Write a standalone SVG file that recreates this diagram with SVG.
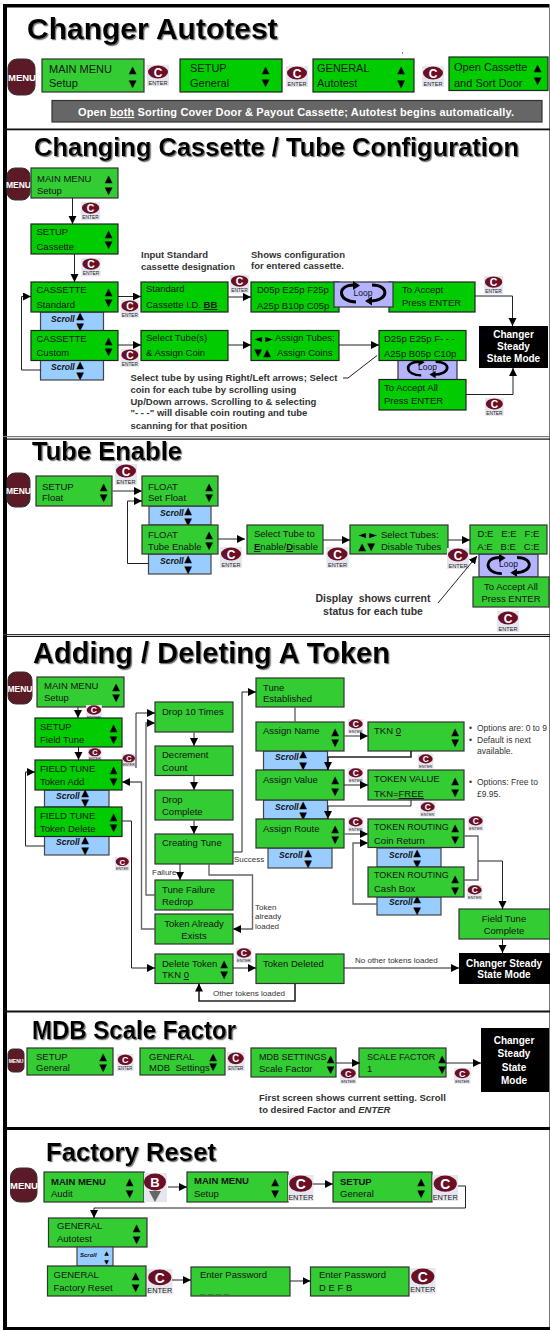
<svg xmlns="http://www.w3.org/2000/svg" width="550" height="1330" viewBox="0 0 550 1330">
<style>
text{font-family:"Liberation Sans",Arial,sans-serif;fill:#141414;font-size:9.500px;white-space:pre}
.title{font-weight:700;fill:#000;filter:url(#sh)}
.a{fill:#33cc33;stroke:#333;stroke-width:1.2}
.b{fill:#00cc00;stroke:#222;stroke-width:1.2}
.sc{fill:#99ccff;stroke:#444;stroke-width:1.2}
.lp{fill:#b3b3ff;stroke:#333;stroke-width:1.2}
.blk{fill:#000}
.w{fill:#fff;font-weight:700;font-size:10px;text-anchor:middle}
.m{fill:#5c1a26;stroke:#333;stroke-width:1}
.mt{fill:#fff;font-weight:700;text-anchor:middle}
.f11{font-size:11px}
.nar{font-size:9px}
.ar{font-family:"DejaVu Sans",sans-serif;font-size:10px;text-anchor:middle;fill:#000}
.scr{font-weight:700;font-style:italic;font-size:8.500px;fill:#111}
.note{font-weight:700;font-size:9.500px;fill:#333}
.sm{font-size:8px;fill:#333}
.opt{font-size:8.500px;fill:#333}
.u{text-decoration:underline}
.ec{fill:#fff;font-weight:700;font-size:12px;text-anchor:middle}
.ee{fill:#222;font-size:5.600px;text-anchor:middle}
.eb{fill:#222;font-size:6.400px;text-anchor:middle}
.lt{font-size:8.500px;text-anchor:middle;fill:#111}
.mid{text-anchor:middle}
.cn{fill:none;stroke:#222;stroke-width:1}
.g{stroke:#666;stroke-width:1.4}
.h{stroke-width:1.6}
.arr{marker-end:url(#ah)}
</style>
<defs>
<filter id="sh" x="-5%" y="-20%" width="110%" height="150%"><feDropShadow dx="1.2" dy="1.2" stdDeviation="0.7" flood-color="#777"/></filter>
<marker id="ah" markerUnits="userSpaceOnUse" markerWidth="9" markerHeight="9" refX="8" refY="4" orient="auto"><path d="M0,0 L8,4 L0,8 Z" fill="#000"/></marker>
<g id="ek"><rect width="22" height="21" fill="#e6e6ee"/><ellipse cx="11" cy="7" rx="10" ry="6.500" fill="#6b0f26"/></g>
<g id="lg"><path d="M-9,-9 C-27,-9 -25,8 -7,8 M9,-9 C27,-9 26,7 7,7" fill="none" stroke="#000" stroke-width="3"/><path d="M-10,-13 L-3,-8.500 L-10,-4 Z M9,2.500 L2,7 L9,11.500 Z" fill="#000"/></g>
</defs>

<g id="frame">
<rect x="3" y="4" width="4" height="1326" fill="#000"/>
<rect x="3" y="4" width="547" height="3.500" fill="#000"/>
<rect x="549" y="4" width="1" height="1326" fill="#777"/>
<rect x="3" y="128.500" width="547" height="1.800" fill="#111"/>
<rect x="3" y="436" width="547" height="1.200" fill="#777"/>
<rect x="3" y="438.500" width="547" height="1.200" fill="#111"/>
<rect x="3" y="634" width="547" height="1.200" fill="#333"/>
<rect x="3" y="636" width="547" height="1" fill="#111"/>
<rect x="3" y="1010.500" width="547" height="2" fill="#111"/>
<rect x="3" y="1127" width="547" height="3" fill="#000"/>
<rect x="3" y="1327" width="547" height="3" fill="#000"/>
<rect x="101" y="103.500" width="1" height="1" fill="#000"/>
<rect x="402" y="52.500" width="1" height="1" fill="#000"/>
</g>

<g id="titles">
<text class="title" x="27" y="39" style="font-size:30px">Changer Autotest</text>
<text class="title" x="34" y="156" style="font-size:26.500px" textLength="485" lengthAdjust="spacingAndGlyphs">Changing Cassette / Tube Configuration</text>
<text class="title" x="32" y="460" style="font-size:26px" textLength="150" lengthAdjust="spacingAndGlyphs">Tube Enable</text>
<text class="title" x="33" y="663" style="font-size:29px" textLength="357" lengthAdjust="spacingAndGlyphs">Adding / Deleting A Token</text>
<text class="title" x="32" y="1039" style="font-size:25px" textLength="204" lengthAdjust="spacingAndGlyphs">MDB Scale Factor</text>
<text class="title" x="46" y="1161" style="font-size:26px" textLength="170" lengthAdjust="spacingAndGlyphs">Factory Reset</text>
</g>

<!-- Section 1 -->
<g id="s1-menu"><rect class="m" x="8" y="59" width="27" height="36" rx="9"/><text class="mt" x="22" y="81" style="font-size:9.500px">MENU</text></g>
<g id="s1-main"><rect class="a" x="42" y="59" width="102" height="33"/><text class="f11" x="49" y="73">MAIN MENU</text><text class="f11" x="49" y="87">Setup</text><text class="ar" x="132.500" y="73">▲</text><text class="ar" x="132.500" y="87">▼</text></g>
<g id="s1-e1" transform="translate(147,65)"><use href="#ek"/><text class="ec" x="11" y="11.500">C</text><text class="ee" x="11" y="19.500">ENTER</text></g>
<g id="s1-setup"><rect class="b" x="180" y="59" width="102" height="33"/><text class="f11" x="190" y="72">SETUP</text><text class="f11" x="190" y="87">General</text><text class="ar" x="265.500" y="73">▲</text><text class="ar" x="265.500" y="86">▼</text></g>
<g id="s1-e2" transform="translate(286,66)"><use href="#ek"/><text class="ec" x="11" y="11.500">C</text><text class="ee" x="11" y="19.500">ENTER</text></g>
<g id="s1-general"><rect class="b" x="313" y="59" width="101" height="33"/><text class="f11" x="317" y="72">GENERAL</text><text class="f11" x="317" y="87">Autotest</text><text class="ar" x="401" y="73">▲</text><text class="ar" x="401" y="87">▼</text></g>
<g id="s1-e3" transform="translate(422,66)"><use href="#ek"/><text class="ec" x="11" y="11.500">C</text><text class="ee" x="11" y="19.500">ENTER</text></g>
<g id="s1-open"><rect class="b" x="449" y="57" width="99" height="33.500"/><text class="f11" x="454" y="71">Open Cassette</text><text class="f11" x="454" y="87">and Sort Door</text><text class="ar" x="537.500" y="71">▲</text><text class="ar" x="537.500" y="84">▼</text></g>
<g id="s1-bar"><rect x="52" y="100.500" width="490" height="21.500" fill="#666" stroke="#333" stroke-width="1.200"/><text x="78" y="116" textLength="436" style="fill:#fff;font-weight:700;font-size:11px">Open <tspan class="u" style="fill:#fff">both</tspan> Sorting Cover Door &amp; Payout Cassette; Autotest begins automatically.</text></g>

<!-- Section 2 -->
<g id="s2-menu"><rect class="m" x="7" y="168" width="23" height="32" rx="8"/><text class="mt" x="18.500" y="188" style="font-size:8.500px">MENU</text></g>
<g id="s2-main"><rect class="a" x="31" y="168" width="87" height="30"/><text x="37" y="182">MAIN MENU</text><text x="37" y="194">Setup</text><text class="ar" x="108.500" y="182">▲</text><text class="ar" x="108.500" y="194">▼</text></g>
<g id="s2-e1" transform="translate(81,202) scale(.87)"><use href="#ek"/><text class="ec" x="11" y="11.500">C</text><text class="ee" x="11" y="19.500">ENTER</text></g>
<g id="s2-setup"><rect class="b" x="31" y="224" width="87" height="30"/><text x="36.500" y="235">SETUP</text><text x="36.500" y="250">Cassette</text><text class="ar" x="108.500" y="237">▲</text><text class="ar" x="108.500" y="248">▼</text></g>
<g id="s2-e2" transform="translate(81.500,258) scale(.87)"><use href="#ek"/><text class="ec" x="11" y="11.500">C</text><text class="ee" x="11" y="19.500">ENTER</text></g>
<g id="s2-scroll1"><rect class="sc" x="40.500" y="312" width="63" height="19"/><text class="scr" x="51" y="321.500">Scroll</text><text class="ar" x="80" y="318.500">▲</text><text class="ar" x="80" y="329.500">▼</text></g>
<g id="s2-scroll2"><rect class="sc" x="40.500" y="360" width="63" height="20"/><text class="scr" x="51" y="370">Scroll</text><text class="ar" x="80" y="367.500">▲</text><text class="ar" x="80" y="378.500">▼</text></g>
<g id="s2-std"><rect class="b" x="31" y="282" width="87" height="30"/><text x="36.500" y="293">CASSETTE</text><text x="36.500" y="308">Standard</text><text class="ar" x="108.500" y="295">▲</text><text class="ar" x="108.500" y="306">▼</text></g>
<g id="s2-cus"><rect class="b" x="31" y="330.500" width="87" height="30"/><text x="36.500" y="341.500">CASSETTE</text><text x="36.500" y="356">Custom</text><text class="ar" x="108.500" y="344">▲</text><text class="ar" x="108.500" y="355">▼</text></g>
<g id="s2-e3" transform="translate(120.500,300) scale(.85)"><use href="#ek"/><text class="ec" x="11" y="11.500">C</text><text class="ee" x="11" y="19.500">ENTER</text></g>
<g id="s2-e4" transform="translate(120.500,349) scale(.85)"><use href="#ek"/><text class="ec" x="11" y="11.500">C</text><text class="ee" x="11" y="19.500">ENTER</text></g>
<g id="s2-stdid"><rect class="b" x="141" y="282" width="87" height="30"/><text x="146" y="292">Standard</text><text x="146" y="308">Cassette I.D. <tspan class="u" font-weight="700">BB</tspan></text></g>
<g id="s2-e5" transform="translate(230,275) scale(.87)"><use href="#ek"/><text class="ec" x="11" y="11.500">C</text><text class="ee" x="11" y="19.500">ENTER</text></g>
<g id="s2-n1"><text class="note" x="141" y="258">Input Standard</text><text class="note" x="141" y="270">cassette designation</text><text class="note" x="251" y="258">Shows configuration</text><text class="note" x="251" y="269">for entered cassette.</text></g>
<g id="s2-cfg"><rect class="b" x="251" y="282" width="88" height="30"/><text x="257" y="293">D05p E25p F25p</text><text x="257" y="309">A25p B10p C05p</text></g>
<g id="s2-accept"><rect class="b" x="389" y="282" width="86" height="30"/><text x="402" y="293">To Accept</text><text x="402" y="306">Press ENTER</text></g>
<g id="s2-loop1"><rect class="lp" x="334" y="282" width="59" height="25"/><use href="#lg" x="363" y="294"/><text class="lt" x="363" y="296">Loop</text></g>
<g id="s2-e6" transform="translate(484,276) scale(.87)"><use href="#ek"/><text class="ec" x="11" y="11.500">C</text><text class="ee" x="11" y="19.500">ENTER</text></g>
<g id="s2-steady"><rect class="blk" x="479" y="326" width="69" height="42"/><text class="w" x="513.500" y="338">Changer</text><text class="w" x="513.500" y="350">Steady</text><text class="w" x="513.500" y="362">State Mode</text></g>
<g id="s2-sel"><rect class="b" x="141" y="330.500" width="87" height="30"/><text x="146" y="341">Select Tube(s)</text><text x="146" y="356">&amp; Assign Coin</text></g>
<g id="s2-assign"><rect class="b" x="251" y="330.500" width="88" height="30"/><text class="ar" x="258" y="342">◄</text><text class="ar" x="269" y="342">►</text><text x="275" y="341">Assign Tubes;</text><text class="ar" x="258" y="355.500">▼</text><text class="ar" x="267" y="355.500">▲</text><text x="277" y="355.500">Assign Coins</text></g>
<g id="s2-loop2"><rect class="lp" x="398" y="360" width="59" height="20"/><use href="#lg" transform="translate(427.500,369) scale(.9,.8)"/><text class="lt" x="427.500" y="370">Loop</text></g>
<g id="s2-d25"><rect class="b" x="379" y="330.500" width="87" height="30"/><text x="384" y="342">D25p E25p F- - -</text><text x="384" y="357">A25p B05p C10p</text></g>
<g id="s2-acceptall"><rect class="b" x="379" y="379.500" width="87" height="30.500"/><text x="384" y="391">To Accept All</text><text x="384" y="404">Press ENTER</text></g>
<g id="s2-e7" transform="translate(485,398) scale(.85)"><use href="#ek"/><text class="ec" x="11" y="11.500">C</text><text class="ee" x="11" y="19.500">ENTER</text></g>
<g id="s2-n2"><text class="note" x="130.500" y="381">Select tube by using Right/Left arrows; Select</text><text class="note" x="130.500" y="393">coin for each tube by scrolling using</text><text class="note" x="130.500" y="405">Up/Down arrows. Scrolling to &amp; selecting</text><text class="note" x="130.500" y="416">"- - -" will disable coin routing and tube</text><text class="note" x="130.500" y="429">scanning for that position</text></g>

<!-- Section 3 -->
<g id="s3-menu"><rect class="m" x="7" y="473" width="23" height="34" rx="8"/><text class="mt" x="18.500" y="494" style="font-size:8.500px">MENU</text></g>
<g id="s3-setup"><rect class="a" x="36" y="476" width="76" height="30"/><text x="42" y="490">SETUP</text><text x="42" y="501">Float</text><text class="ar" x="103.500" y="490">▲</text><text class="ar" x="103.500" y="501">▼</text></g>
<g id="s3-e1" transform="translate(115,464)"><use href="#ek"/><text class="ec" x="11" y="11.500">C</text><text class="ee" x="11" y="19.500">ENTER</text></g>
<g id="s3-scroll1"><rect class="sc" x="149" y="506" width="62" height="19"/><text class="scr" x="160" y="516">Scroll</text><text class="ar" x="188" y="514">▲</text><text class="ar" x="188" y="525">▼</text></g>
<g id="s3-scroll2"><rect class="sc" x="148.500" y="554" width="62.500" height="20"/><text class="scr" x="160" y="564">Scroll</text><text class="ar" x="188" y="561.500">▲</text><text class="ar" x="188" y="572.500">▼</text></g>
<g id="s3-set"><rect class="a" x="142" y="476" width="76" height="30"/><text x="148" y="490">FLOAT</text><text x="148" y="501">Set Float</text><text class="ar" x="209" y="490">▲</text><text class="ar" x="209" y="501">▼</text></g>
<g id="s3-en"><rect class="a" x="142" y="525" width="76" height="29"/><text x="148" y="538">FLOAT</text><text x="148" y="550">Tube Enable</text><text class="ar" x="209" y="538">▲</text><text class="ar" x="209" y="549">▼</text></g>
<g id="s3-e2" transform="translate(220,547)"><use href="#ek"/><text class="ec" x="11" y="11.500">C</text><text class="ee" x="11" y="19.500">ENTER</text></g>
<g id="s3-sel"><rect class="a" x="247" y="525" width="76" height="29"/><text x="254" y="537">Select Tube to</text><text x="254" y="550"><tspan class="u" font-weight="700">E</tspan>nable/<tspan class="u" font-weight="700">D</tspan>isable</text></g>
<g id="s3-e3" transform="translate(326.500,547)"><use href="#ek"/><text class="ec" x="11" y="11.500">C</text><text class="ee" x="11" y="19.500">ENTER</text></g>
<g id="s3-tubes"><rect class="a" x="350" y="525" width="98" height="29"/><text class="ar" x="362" y="538">◄</text><text class="ar" x="373" y="538">►</text><text x="381" y="538">Select Tubes:</text><text class="ar" x="362" y="550">▲</text><text class="ar" x="371" y="550">▼</text><text x="381" y="550">Disable Tubes</text></g>
<g id="s3-e4" transform="translate(447,548)"><use href="#ek"/><text class="ec" x="11" y="11.500">C</text><text class="ee" x="11" y="19.500">ENTER</text></g>
<g id="s3-loop"><rect class="lp" x="479" y="554" width="59" height="23"/><use href="#lg" transform="translate(508.500,566) scale(.95)"/><text class="lt" x="508.500" y="567">Loop</text></g>
<g id="s3-de"><rect class="a" x="470" y="525" width="77" height="29"/><text class="mid" x="508.500" y="537">D:E   E:E   F:E</text><text class="mid" x="508.500" y="550">A:E   B:E   C:E</text></g>
<g id="s3-acc"><rect class="a" x="473" y="577" width="76" height="30"/><text class="mid" x="511" y="590">To Accept All</text><text class="mid" x="511" y="602">Press ENTER</text></g>
<g id="s3-e5" transform="translate(497,611)"><use href="#ek"/><text class="ec" x="11" y="11.500">C</text><text class="ee" x="11" y="19.500">ENTER</text></g>
<g id="s3-note"><text class="note" x="373" y="602" style="font-size:10.500px;text-anchor:middle">Display  shows current</text><text class="note" x="373" y="615" style="font-size:10.500px;text-anchor:middle">status for each tube</text></g>

<!-- Section 4 -->
<g id="s4-menu"><rect class="m" x="8" y="672" width="24" height="32" rx="8"/><text class="mt" x="20" y="692" style="font-size:8.500px">MENU</text></g>
<g id="s4-main"><rect class="a" x="37" y="677" width="87" height="30"/><text x="44" y="689">MAIN MENU</text><text x="44" y="701">Setup</text><text class="ar" x="116" y="690">▲</text><text class="ar" x="116" y="701">▼</text></g>
<g id="s4-e1" transform="translate(86,705) scale(.72)"><use href="#ek"/><text class="ec" x="11" y="11.500">C</text><text class="ee" x="11" y="19.500">ENTER</text></g>
<g id="s4-setup"><rect class="b" x="35" y="718" width="87" height="29"/><text x="40" y="730">SETUP</text><text x="40" y="743">Field Tune</text><text class="ar" x="113.500" y="731">▲</text><text class="ar" x="113.500" y="743">▼</text></g>
<g id="s4-e2" transform="translate(88,748) scale(.62)"><use href="#ek"/><text class="ec" x="11" y="11.500">C</text><text class="ee" x="11" y="19.500">ENTER</text></g>
<g id="s4-e3" transform="translate(122,754) scale(.62)"><use href="#ek"/><text class="ec" x="11" y="11.500">C</text><text class="ee" x="11" y="19.500">ENTER</text></g>
<g id="s4-scroll1"><rect class="sc" x="44.500" y="790" width="64.500" height="17"/><text class="scr" x="56" y="799">Scroll</text><text class="ar" x="85" y="796">▲</text><text class="ar" x="85" y="806">▼</text></g>
<g id="s4-scroll2"><rect class="sc" x="44.500" y="836" width="64.500" height="19"/><text class="scr" x="56" y="845">Scroll</text><text class="ar" x="85" y="842.500">▲</text><text class="ar" x="85" y="854">▼</text></g>
<g id="s4-add"><rect class="b" x="35" y="760" width="87" height="30"/><text x="40" y="772">FIELD TUNE</text><text x="40" y="785">Token Add</text><text class="ar" x="113.500" y="773">▲</text><text class="ar" x="113.500" y="785">▼</text></g>
<g id="s4-del"><rect class="b" x="35" y="807" width="87" height="29.500"/><text x="40" y="819">FIELD TUNE</text><text x="40" y="832">Token Delete</text><text class="ar" x="113.500" y="820">▲</text><text class="ar" x="113.500" y="831">▼</text></g>
<g id="s4-e4" transform="translate(115,857) scale(.66)"><use href="#ek"/><text class="ec" x="11" y="11.500">C</text><text class="ee" x="11" y="19.500">ENTER</text></g>
<g id="s4-drop"><rect class="a" x="155" y="702" width="78" height="30"/><text x="162" y="715">Drop 10 Times</text></g>
<g id="s4-dec"><rect class="a" x="155" y="746" width="78" height="29.500"/><text x="162" y="758">Decrement</text><text x="162" y="771">Count</text></g>
<g id="s4-comp"><rect class="a" x="155" y="790" width="78" height="30"/><text x="162" y="803">Drop</text><text x="162" y="815">Complete</text></g>
<g id="s4-creat"><rect class="a" x="155" y="834" width="78" height="30"/><text x="162" y="846">Creating Tune</text></g>
<g id="s4-fail"><rect class="a" x="155" y="880" width="78" height="30"/><text x="162" y="893">Tune Failure</text><text x="162" y="905">Redrop</text></g>
<g id="s4-exists"><rect class="a" x="155" y="914" width="78" height="30"/><text class="mid" x="194" y="927">Token Already</text><text class="mid" x="194" y="939">Exists</text></g>
<g id="s4-deltok"><rect class="a" x="155" y="954" width="78" height="29.500"/><text x="162" y="967">Delete Token</text><text x="162" y="978">TKN <tspan class="u">0</tspan></text><text class="ar" x="224" y="967">▲</text><text class="ar" x="224" y="978">▼</text></g>
<g id="s4-e5" transform="translate(236,948) scale(.72)"><use href="#ek"/><text class="ec" x="11" y="11.500">C</text><text class="ee" x="11" y="19.500">ENTER</text></g>
<g id="s4-deleted"><rect class="a" x="256" y="954" width="88" height="29.500"/><text x="263" y="967">Token Deleted</text></g>
<g id="s4-est"><rect class="a" x="256" y="678" width="88" height="29"/><text x="263" y="691">Tune</text><text x="263" y="702">Established</text></g>
<g id="s4-scroll3"><rect class="sc" x="263.500" y="751" width="64" height="19"/><text class="scr" x="275" y="760">Scroll</text><text class="ar" x="303" y="757">▲</text><text class="ar" x="303" y="769">▼</text></g>
<g id="s4-scroll4"><rect class="sc" x="263.500" y="800" width="64" height="19"/><text class="scr" x="275" y="810">Scroll</text><text class="ar" x="303" y="808">▲</text><text class="ar" x="303" y="819">▼</text></g>
<g id="s4-scroll5"><rect class="sc" x="268" y="848" width="64" height="20"/><text class="scr" x="279" y="858">Scroll</text><text class="ar" x="308" y="856">▲</text><text class="ar" x="308" y="867">▼</text></g>
<g id="s4-name"><rect class="a" x="256" y="722" width="88" height="29"/><text x="263" y="734">Assign Name</text><text class="ar" x="335" y="735">▲</text><text class="ar" x="335" y="746">▼</text></g>
<g id="s4-val"><rect class="a" x="256" y="770" width="88" height="30"/><text x="263" y="783">Assign Value</text><text class="ar" x="335" y="783">▲</text><text class="ar" x="335" y="795">▼</text></g>
<g id="s4-route"><rect class="a" x="256" y="819" width="88" height="29"/><text x="263" y="832">Assign Route</text><text class="ar" x="335" y="832">▲</text><text class="ar" x="335" y="843">▼</text></g>
<g id="s4-e6" transform="translate(348,719) scale(.7)"><use href="#ek"/><text class="ec" x="11" y="11.500">C</text><text class="ee" x="11" y="19.500">ENTER</text></g>
<g id="s4-e7" transform="translate(348,768) scale(.7)"><use href="#ek"/><text class="ec" x="11" y="11.500">C</text><text class="ee" x="11" y="19.500">ENTER</text></g>
<g id="s4-e8" transform="translate(348,817) scale(.7)"><use href="#ek"/><text class="ec" x="11" y="11.500">C</text><text class="ee" x="11" y="19.500">ENTER</text></g>
<g id="s4-tkn"><rect class="a" x="368" y="722" width="96" height="29"/><text x="374" y="734">TKN <tspan class="u">0</tspan></text><text class="ar" x="455" y="735">▲</text><text class="ar" x="455" y="746">▼</text></g>
<g id="s4-e9" transform="translate(418,754) scale(.7)"><use href="#ek"/><text class="ec" x="11" y="11.500">C</text><text class="ee" x="11" y="19.500">ENTER</text></g>
<g id="s4-tv"><rect class="a" x="368" y="770" width="96" height="30"/><text x="374" y="782">TOKEN VALUE</text><text x="374" y="797">TKN=<tspan class="u">FREE</tspan></text><text class="ar" x="455" y="784">▲</text><text class="ar" x="455" y="796">▼</text></g>
<g id="s4-e10" transform="translate(420,802) scale(.7)"><use href="#ek"/><text class="ec" x="11" y="11.500">C</text><text class="ee" x="11" y="19.500">ENTER</text></g>
<g id="s4-scroll6"><rect class="sc" x="377" y="848" width="64" height="19"/><text class="scr" x="389" y="858">Scroll</text><text class="ar" x="417" y="856">▲</text><text class="ar" x="417" y="867">▼</text></g>
<g id="s4-scroll7"><rect class="sc" x="377" y="897" width="64" height="18"/><text class="scr" x="389" y="905">Scroll</text><text class="ar" x="417" y="902">▲</text><text class="ar" x="417" y="914">▼</text></g>
<g id="s4-coin"><rect class="a" x="368" y="819" width="96" height="28.500"/><text class="nar" x="374" y="830">TOKEN ROUTING</text><text x="374" y="844">Coin Return</text><text class="ar" x="455" y="831">▲</text><text class="ar" x="455" y="843">▼</text></g>
<g id="s4-cash"><rect class="a" x="368" y="867" width="96" height="30"/><text class="nar" x="374" y="878">TOKEN ROUTING</text><text x="374" y="892">Cash Box</text><text class="ar" x="455" y="882">▲</text><text class="ar" x="455" y="894">▼</text></g>
<g id="s4-e11" transform="translate(468,816) scale(.7)"><use href="#ek"/><text class="ec" x="11" y="11.500">C</text><text class="ee" x="11" y="19.500">ENTER</text></g>
<g id="s4-e12" transform="translate(467,885) scale(.7)"><use href="#ek"/><text class="ec" x="11" y="11.500">C</text><text class="ee" x="11" y="19.500">ENTER</text></g>
<g id="s4-ftc"><rect class="a" x="459" y="909" width="91" height="30"/><text class="mid" x="504" y="922">Field Tune</text><text class="mid" x="504" y="934">Complete</text></g>
<g id="s4-steady"><rect class="blk" x="459" y="953" width="91" height="31"/><text class="w" x="504" y="967">Changer Steady</text><text class="w" x="504" y="978">State Mode</text></g>
<g id="s4-notes">
<text class="opt" x="469" y="731">•</text><text class="opt" x="477" y="731">Options are: 0 to 9</text>
<text class="opt" x="469" y="743">•</text><text class="opt" x="477" y="743">Default is next</text><text class="opt" x="477" y="754">available.</text>
<text class="opt" x="469" y="785">•</text><text class="opt" x="477" y="785">Options: Free to</text><text class="opt" x="477" y="797">£9.95.</text>
<text class="sm" x="234" y="862">Success</text><text class="sm" x="152" y="875">Failure</text>
<text class="sm" x="255" y="910">Token</text><text class="sm" x="255" y="919">already</text><text class="sm" x="255" y="929">loaded</text>
<text class="sm" x="355" y="963">No other tokens loaded</text><text class="sm" x="213" y="996">Other tokens loaded</text>
</g>

<!-- Section 5 -->
<g id="s5-menu"><rect class="m" x="8" y="1049" width="16" height="23" rx="5"/><text class="mt" x="16" y="1063" style="font-size:5px">MENU</text></g>
<g id="s5-setup"><rect class="a" x="27" y="1048" width="86" height="27"/><text x="36" y="1060">SETUP</text><text x="36" y="1071">General</text><text class="ar" x="103" y="1060">▲</text><text class="ar" x="103" y="1071">▼</text></g>
<g id="s5-e1" transform="translate(117,1054) scale(.75,.82)"><use href="#ek"/><text class="ec" x="11" y="11.500">C</text><text class="ee" x="11" y="19.500">ENTER</text></g>
<g id="s5-gen"><rect class="a" x="140" y="1048" width="85" height="27"/><text x="149" y="1060">GENERAL</text><text x="149" y="1071">MDB  Settings</text><text class="ar" x="213" y="1060">▲</text><text class="ar" x="213" y="1070">▼</text></g>
<g id="s5-e2" transform="translate(227,1052) scale(.8,.9)"><use href="#ek"/><text class="ec" x="11" y="11.500">C</text><text class="ee" x="11" y="19.500">ENTER</text></g>
<g id="s5-mdb"><rect class="a" x="251" y="1048" width="85" height="29"/><text class="nar" x="259" y="1060">MDB SETTINGS</text><text x="259" y="1072">Scale Factor</text><text class="ar" x="330.500" y="1062">▲</text><text class="ar" x="330.500" y="1073">▼</text></g>
<g id="s5-e3" transform="translate(340,1068) scale(.75)"><use href="#ek"/><text class="ec" x="11" y="11.500">C</text><text class="ee" x="11" y="19.500">ENTER</text></g>
<g id="s5-sf"><rect class="a" x="359" y="1048" width="87" height="29"/><text class="nar" x="367" y="1060">SCALE FACTOR</text><text x="367" y="1072">1</text><text class="ar" x="442" y="1062">▲</text><text class="ar" x="442" y="1073">▼</text></g>
<g id="s5-e4" transform="translate(454,1068) scale(.75)"><use href="#ek"/><text class="ec" x="11" y="11.500">C</text><text class="ee" x="11" y="19.500">ENTER</text></g>
<g id="s5-steady"><rect class="blk" x="481" y="1028" width="68" height="64"/><text class="w" x="514" y="1044">Changer</text><text class="w" x="514" y="1057">Steady</text><text class="w" x="514" y="1071">State</text><text class="w" x="514" y="1084">Mode</text></g>
<g id="s5-note"><text class="note" x="259" y="1101">First screen shows current setting. Scroll</text><text class="note" x="259" y="1113">to desired Factor and <tspan font-style="italic">ENTER</tspan></text></g>

<!-- Section 6 -->
<g id="s6-menu"><rect class="m" x="10.500" y="1168" width="26.500" height="34" rx="9"/><text class="mt" x="24" y="1189" style="font-size:9.500px">MENU</text></g>
<g id="s6-audit"><rect class="a" x="44" y="1172" width="100" height="30"/><text x="51" y="1185" font-weight="700">MAIN MENU</text><text x="51" y="1197">Audit</text><text class="ar" x="129.500" y="1185">▲</text><text class="ar" x="129.500" y="1197">▼</text></g>
<g id="s6-b"><rect x="144" y="1173" width="23" height="29" fill="#e6e6ee"/><ellipse cx="155" cy="1182" rx="11" ry="8.500" fill="#6b0f26"/><text class="ec" x="155" y="1187" style="font-size:13px">B</text><path d="M149,1191 L161,1191 L155,1202 Z" fill="#666"/></g>
<g id="s6-setup1"><rect class="a" x="187" y="1172" width="101" height="30"/><text x="194" y="1184" font-weight="700">MAIN MENU</text><text x="194" y="1197">Setup</text><text class="ar" x="275" y="1185">▲</text><text class="ar" x="275" y="1197">▼</text></g>
<g id="s6-e1" transform="translate(288,1175) scale(1.16,1.24)"><use href="#ek"/><text class="ec" x="11" y="11.500">C</text><text class="eb" x="11" y="20">ENTER</text></g>
<g id="s6-setup2"><rect class="a" x="333" y="1172" width="99" height="30"/><text x="340" y="1185" font-weight="700">SETUP</text><text x="340" y="1197">General</text><text class="ar" x="421" y="1185">▲</text><text class="ar" x="421" y="1197">▼</text></g>
<g id="s6-e2" transform="translate(432.500,1175) scale(1.16,1.24)"><use href="#ek"/><text class="ec" x="11" y="11.500">C</text><text class="eb" x="11" y="20">ENTER</text></g>
<g id="s6-auto"><rect class="a" x="48.500" y="1218" width="98.500" height="29"/><text x="57" y="1229">GENERAL</text><text x="57" y="1242">Autotest</text><text class="ar" x="136.500" y="1231">▲</text><text class="ar" x="136.500" y="1243">▼</text></g>
<g id="s6-scroll"><rect class="sc" x="77" y="1247" width="36" height="19"/><text class="scr" x="80" y="1257" style="font-size:6px">Scroll</text><text class="ar" x="106.500" y="1255" style="font-size:6px">▲</text><text class="ar" x="106.500" y="1264" style="font-size:6px">▼</text></g>
<g id="s6-fr"><rect class="a" x="47.500" y="1266" width="98.500" height="30"/><text x="53.500" y="1278">GENERAL</text><text x="53.500" y="1291">Factory Reset</text><text class="ar" x="135.500" y="1279">▲</text><text class="ar" x="135.500" y="1291">▼</text></g>
<g id="s6-e3" transform="translate(147,1269) scale(1.16,1.2)"><use href="#ek"/><text class="ec" x="11" y="11.500">C</text><text class="eb" x="11" y="20">ENTER</text></g>
<g id="s6-pw1"><rect class="a" x="191" y="1267" width="99" height="29"/><text x="200" y="1278">Enter Password</text><text x="200" y="1293" style="fill:#2a6a2a">_ _ _ _</text></g>
<g id="s6-pw2"><rect class="a" x="310.500" y="1267" width="98.500" height="29"/><text x="319" y="1278">Enter Password</text><text x="319" y="1291">D E F B</text></g>
<g id="s6-e4" transform="translate(410,1268) scale(1.16,1.22)"><use href="#ek"/><text class="ec" x="11" y="11.500">C</text><text class="eb" x="11" y="20">ENTER</text></g>

<g id="connectors">
<path class="cn arr" d="M72.500,198 V224"/>
<path class="cn arr" d="M74.500,254 V282"/>
<path class="cn arr" d="M41,370 H21.500 V296.500 H31"/>
<path class="cn arr" d="M118,296.500 H141"/>
<path class="cn arr" d="M228,297 H251"/>
<path class="cn arr" d="M475,296 H512.500 V326"/>
<path class="cn arr" d="M118,345 H141"/>
<path class="cn arr" d="M228,345 H251"/>
<path class="cn arr" d="M339,345 H379"/>
<path class="cn arr" d="M466,394.500 H513 V368"/>
<path class="cn" d="M343,378 H348 L377,355.500"/>
<path class="cn g arr" d="M112,491 H142"/>
<path class="cn arr" d="M148.500,563.500 H127.500 V501 H142"/>
<path class="cn arr" d="M218,539 H245"/>
<path class="cn arr" d="M323,540 H350"/>
<path class="cn arr" d="M448,540 H470"/>
<path class="cn arr" d="M438,603 L477,556"/>
<path class="cn arr" d="M78,707 V718"/>
<path class="cn arr" d="M78.500,747 V760"/>
<path class="cn arr" d="M44.500,846 H25.500 V772 H35"/>
<path class="cn arr" d="M136,768 V713 H155"/>
<path class="cn g arr" d="M155,895 H146 V723 H155"/>
<path class="cn g arr" d="M155,929 H141.500 V782 H122"/>
<path class="cn arr" d="M122,821 H131.500 V968 H155"/>
<path class="cn g arr" d="M194,732 V746"/>
<path class="cn g arr" d="M194,775.500 V790"/>
<path class="cn g arr" d="M194,820 V834"/>
<path class="cn arr" d="M233,852 H242 V692 H256"/>
<path class="cn arr" d="M180,864 V880"/>
<path class="cn g arr" d="M209,864 V875 H252.500 V929 H233"/>
<path class="cn g" d="M295,707 V722"/>
<path class="cn g arr" d="M344,736 H368"/>
<path class="cn arr" d="M344,785 H368"/>
<path class="cn g arr" d="M344,834 H368"/>
<path class="cn h arr" d="M411,751 V757 H328 V770"/>
<path class="cn arr" d="M411,800 V806 H328 V819"/>
<path class="cn g arr" d="M377,904 H353 V843 H368"/>
<path class="cn g" d="M464,836 H478 V880 H464"/>
<path class="cn arr" d="M478,861 H502.500 V909"/>
<path class="cn arr" d="M502.500,939 V953"/>
<path class="cn arr" d="M233,968 H256"/>
<path class="cn arr" d="M344,968 H459"/>
<path class="cn h arr" d="M295,983.500 V1001 H199 V983.500"/>
<path class="cn arr" d="M336,1063 H360"/>
<path class="cn arr" d="M446,1063 H481"/>
<path class="cn arr" d="M168,1187 H187"/>
<path class="cn arr" d="M313,1184 H333"/>
<path class="cn arr" d="M458,1186 H465.500 V1208 H94 V1218"/>
<path class="cn arr" d="M172,1280 H191"/>
<path class="cn arr" d="M290,1281 H310.500"/>
</g>
</svg>
